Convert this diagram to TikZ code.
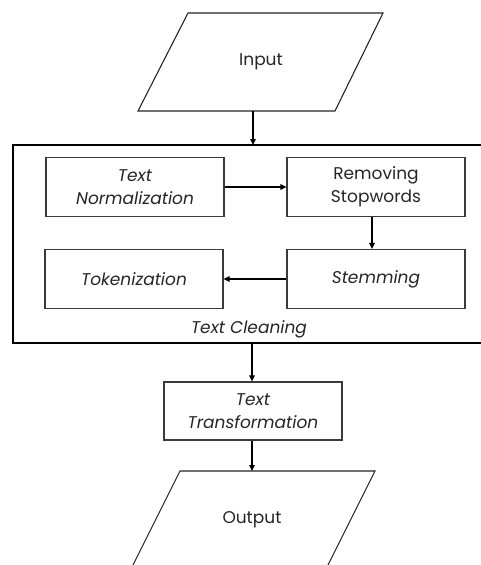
\documentclass[tikz,border=0pt]{standalone}
\usepackage{fontspec}
\setmainfont{Poppins}
\usetikzlibrary{arrows.meta}
\definecolor{boxline}{HTML}{3A3A3A}
\begin{document}
\begin{tikzpicture}[x=1pt,y=-1pt,
  lbl/.style={font=\fontsize{17}{23}\selectfont, text=black!85, align=center, inner sep=0pt},
  stepbox/.style={draw=boxline, line width=1.1pt, minimum width=178pt, minimum height=59pt, inner sep=0pt, align=center, font=\fontsize{17}{23}\selectfont, text=black!85},
  flow/.style={line width=1.6pt, -{Triangle[length=6pt,width=5.5pt]}},
  ioshape/.style={draw=black!85, line width=1.1pt}]
\useasboundingbox (0,0) rectangle (481,565);
\clip (0,0) rectangle (481,565);
\fill[white] (0,0) rectangle (481,565);

% Input parallelogram
\draw[ioshape] (188,13) -- (383,13) -- (335,111) -- (138,111) -- cycle;
\node[lbl] (input) at (261,62) {Input};
\coordinate (inbot) at (253,111);

% Text cleaning container
\draw[line width=2.6pt] (13,145) rectangle (495,343);
\coordinate (cleantop) at (253,145);
\coordinate (cleanbot) at (252,343);
\node[lbl] (cleaning) at (249,329) {\itshape Text Cleaning};

% inner steps
\node[stepbox] (norm) at (135,187) {\itshape Text\\\itshape Normalization};
\node[stepbox] (stop) at (376,187) {Removing\\Stopwords};
\node[stepbox] (tok) at (134,279) {\itshape Tokenization};
\node[stepbox] (stem) at (376,279) {\itshape Stemming};

% transformation
\node[stepbox, minimum height=58pt] (trans) at (253,411) {\itshape Text\\\itshape Transformation};

% Output parallelogram
\draw[ioshape] (180,471) -- (375,471) -- (326,569) -- (131,569) -- cycle;
\node[lbl] (output) at (252,520) {Output};
\coordinate (outtop) at (252,471);

% connectors
\draw[flow] (inbot) -- (cleantop);
\draw[flow] (norm.east) -- (stop.west);
\draw[flow] (stop.south -| 372,0) -- (stem.north -| 372,0);
\draw[flow] (stem.west) -- (tok.east);
\draw[flow] (cleanbot) -- (trans.north -| cleanbot);
\draw[flow] (trans.south -| outtop) -- (outtop);
\end{tikzpicture}
\end{document}
